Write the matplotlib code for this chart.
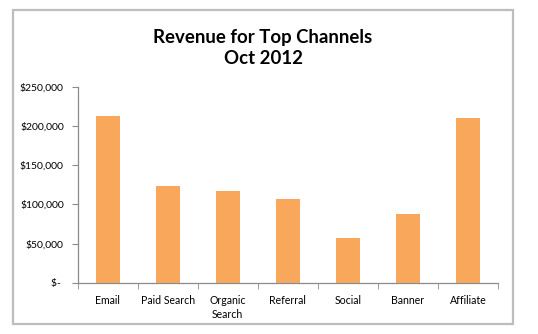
import matplotlib.pyplot as plt
from matplotlib.patches import Rectangle

channels = ['Email', 'Paid Search', 'Organic\nSearch', 'Referral', 'Social', 'Banner', 'Affiliate']
revenue = [213000, 124000, 117500, 107500, 57500, 88000, 211000]
y_ticks = [0, 50000, 100000, 150000, 200000, 250000]
y_labels = ['$- ', '$50,000', '$100,000', '$150,000', '$200,000', '$250,000']

plt.rcParams['font.family'] = ['Lato', 'DejaVu Sans']

W, H = 538, 334
fig = plt.figure(figsize=(W / 100, H / 100), dpi=100)
fig.patch.set_facecolor('white')

# chart area border like the Excel chart object
fig.patches.append(Rectangle((13 / W, 1 - 324 / H), 500 / W, 314 / H,
                             transform=fig.transFigure, fill=False,
                             edgecolor='#bdbdbd', linewidth=1.6))

ax = fig.add_axes([77.7 / W, 1 - 282.7 / H, (498 - 77.7) / W, (282.7 - 87) / H])
x = list(range(len(channels)))
ax.bar(x, revenue, width=0.4, color='#F9A85B')

ax.set_xlim(-0.5, len(channels) - 0.5)
ax.set_ylim(0, 250000)
ax.set_yticks(y_ticks)
ax.set_yticklabels(y_labels)
ax.set_xticks(x)
ax.set_xticklabels(channels, linespacing=1.3)
ax.set_xticks([i - 0.5 for i in range(len(channels) + 1)], minor=True)

ax.tick_params(axis='x', which='major', length=0, pad=9, labelsize=7.6)
ax.tick_params(axis='x', which='minor', length=4, color='#8c8c8c', direction='out')
ax.tick_params(axis='y', length=4, color='#8c8c8c', labelsize=7.5, pad=6)

for s in ['top', 'right']:
    ax.spines[s].set_visible(False)
for s in ['left', 'bottom']:
    ax.spines[s].set_color('#8c8c8c')
    ax.spines[s].set_linewidth(0.9)

fig.text(263 / W, 1 - 48 / H, 'Revenue for Top Channels\nOct 2012', ha='center', va='center',
         fontsize=13.4, fontweight='bold', linespacing=1.25)

fig.savefig('out.png', dpi=100)
